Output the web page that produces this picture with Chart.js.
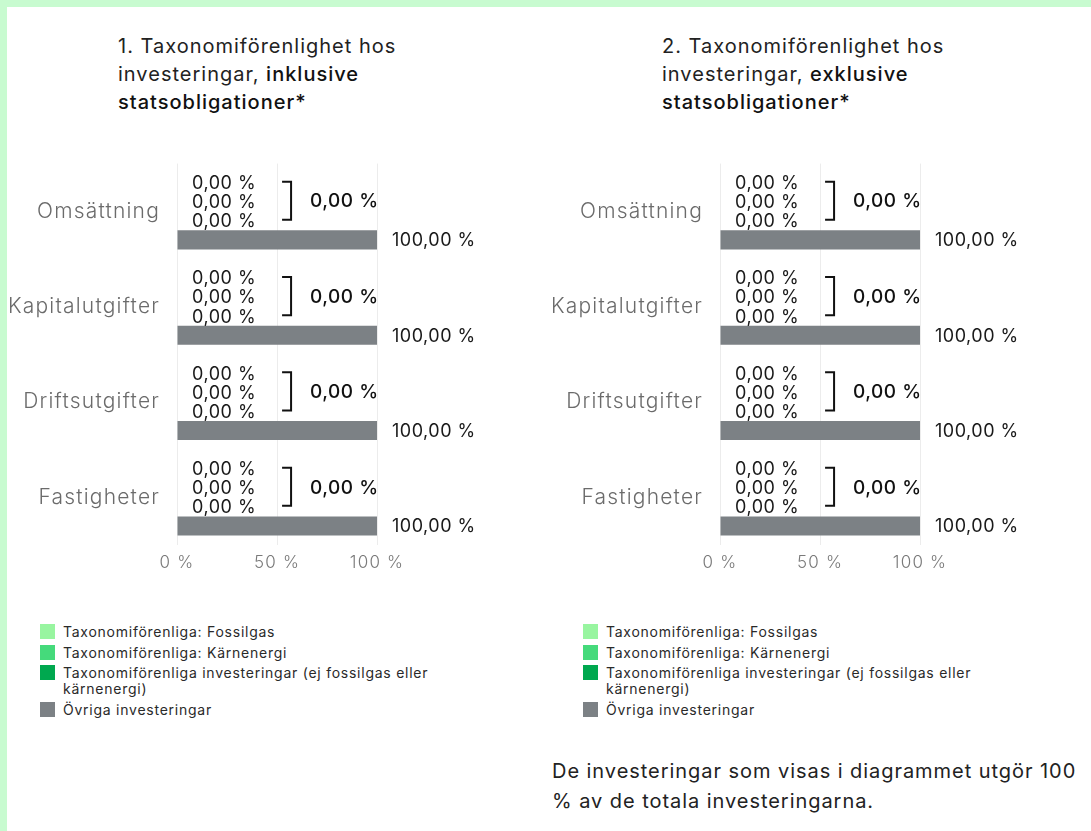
<!DOCTYPE html>
<html lang="sv">
<head>
<meta charset="utf-8">
<title>Taxonomiförenlighet</title>
<script src="https://cdn.jsdelivr.net/npm/chart.js@4.4.1/dist/chart.umd.min.js"></script>
<style>
  html, body { margin: 0; padding: 0; background: #fff; }
  body { width: 1091px; height: 831px; position: relative; overflow: hidden; font-family: Inter, "Noto Sans", sans-serif; color: #1c1c1c; }
  .edge-top { position: absolute; left: 0; top: 0; width: 1091px; height: 7px; background: #c8fbd0; }
  .edge-left { position: absolute; left: 0; top: 0; width: 7px; height: 831px; background: #c8fbd0; }
  .title { position: absolute; top: 32px; width: 300px; font-size: 20px; line-height: 28px; letter-spacing: 1px; font-weight: 400; color: #222; }
  .title b { font-weight: 500; color: #111; }
  canvas { position: absolute; top: 134px; }
  .legend { position: absolute; top: 624px; width: 420px; font-size: 14px; line-height: 16px; color: #2a2a2a; }
  .legend .item { display: flex; align-items: flex-start; margin-bottom: 4.5px; }
  .legend .sw { width: 15px; height: 15px; flex: none; margin-right: 8px; }
  .legend .txt { width: 380px; letter-spacing: 0.75px; }
  .note { position: absolute; left: 552px; top: 756px; width: 535px; font-size: 20px; line-height: 30px; letter-spacing: 0.95px; color: #222; }
</style>
</head>
<body>
<div class="edge-top"></div>
<div class="edge-left"></div>

<div class="title" style="left:118px">1. Taxonomiförenlighet hos investeringar, <b>inklusive statsobligationer*</b></div>
<div class="title" style="left:662px">2. Taxonomiförenlighet hos investeringar, <b>exklusive statsobligationer*</b></div>

<canvas id="chart1" width="540" height="441" style="left:8px"></canvas>
<canvas id="chart2" width="540" height="441" style="left:551px"></canvas>

<div class="legend" id="legend1" style="left:40px"></div>
<div class="legend" id="legend2" style="left:583px"></div>

<div class="note">De investeringar som visas i diagrammet utgör 100 % av de totala investeringarna.</div>

<script>
// Kategorier (y-axeln)
const categories = ['Omsättning', 'Kapitalutgifter', 'Driftsutgifter', 'Fastigheter'];

// Serier
const seriesNames = [
    'Taxonomiförenliga: Fossilgas',
    'Taxonomiförenliga: Kärnenergi',
    'Taxonomiförenliga investeringar (ej fossilgas eller kärnenergi)',
    'Övriga investeringar'
];
const seriesColors = ['#98f5a0', '#45da7b', '#00a84f', '#7c8185'];

// Diagram 1: inklusive statsobligationer
const inklFossilgas = [0, 0, 0, 0];
const inklKarnenergi = [0, 0, 0, 0];
const inklOvrigaTax = [0, 0, 0, 0];
const inklOvriga = [100, 100, 100, 100];

// Diagram 2: exklusive statsobligationer
const exklFossilgas = [0, 0, 0, 0];
const exklKarnenergi = [0, 0, 0, 0];
const exklOvrigaTax = [0, 0, 0, 0];
const exklOvriga = [100, 100, 100, 100];

// x-axelns ticks
const xTicks = [0, 50, 100];

function fmt(v) {
    return v.toFixed(2).replace('.', ',') + ' %';
}

// Bredare typografi för axeletiketterna
const spacing = {
    id: 'spacing',
    beforeDraw(chart) { chart.ctx.letterSpacing = '1.2px'; },
    afterDraw(chart) { chart.ctx.letterSpacing = '0px'; }
};

// Ritar värdeetiketter, klammer och summan av de gröna staplarna
const valueLabels = {
    id: 'valueLabels',
    afterDatasetsDraw(chart) {
        const ctx = chart.ctx;
        ctx.save();
        ctx.letterSpacing = '0.5px';
        ctx.textBaseline = 'middle';
        ctx.textAlign = 'left';
        ctx.fillStyle = '#1a1a1a';
        chart.data.labels.forEach((lab, i) => {
            let rightMost = 0;
            let ys = [];
            let sum = 0;
            chart.data.datasets.forEach((ds, d) => {
                const el = chart.getDatasetMeta(d).data[i];
                const txt = fmt(ds.data[i]);
                ctx.font = '400 18px Inter';
                const tx = el.x + 15;
                ctx.fillText(txt, tx, el.y + 1);
                if (d < 3) {
                    rightMost = Math.max(rightMost, tx + ctx.measureText(txt).width);
                    ys.push(el.y);
                    sum += ds.data[i];
                }
            });
            // klammer
            const bx = rightMost + 26;
            const top = ys[0] - 1;
            const bottom = ys[ys.length - 1] - 1;
            ctx.strokeStyle = '#111';
            ctx.lineWidth = 2;
            ctx.beginPath();
            ctx.moveTo(bx, top);
            ctx.lineTo(bx + 9, top);
            ctx.lineTo(bx + 9, bottom);
            ctx.lineTo(bx, bottom);
            ctx.stroke();
            // summa
            ctx.font = '500 19px Inter';
            ctx.fillStyle = '#111';
            ctx.fillText(fmt(sum), bx + 28, (top + bottom) / 2 + 1);
            ctx.fillStyle = '#1a1a1a';
        });
        ctx.restore();
    }
};

function makeChart(canvasId, seriesData) {
    const datasets = seriesData.map((values, k) => ({
        label: seriesNames[k],
        data: values,
        backgroundColor: seriesColors[k],
        borderWidth: 0,
        categoryPercentage: 0.8,
        barPercentage: 1.0
    }));

    return new Chart(document.getElementById(canvasId), {
        type: 'bar',
        data: { labels: categories, datasets: datasets },
        options: {
            indexAxis: 'y',
            responsive: false,
            animation: false,
            layout: { padding: { top: 11, right: 171, bottom: 0, left: 0 } },
            plugins: {
                legend: { display: false },
                tooltip: { enabled: false }
            },
            scales: {
                x: {
                    min: 0,
                    max: 100,
                    afterBuildTicks: (scale) => { scale.ticks = xTicks.map(v => ({ value: v })); },
                    afterFit: (scale) => { scale.height = 30; },
                    border: { display: false },
                    grid: { color: '#ececec', drawTicks: false },
                    ticks: {
                        padding: 8,
                        color: '#7a7a7a',
                        font: { family: 'Inter', size: 17, weight: 300 },
                        callback: (v) => v + ' %'
                    }
                },
                y: {
                    afterFit: (scale) => { scale.width = 169; },
                    border: { display: false },
                    grid: { display: false, drawTicks: false },
                    ticks: {
                        padding: 17,
                        color: '#6b6b6b',
                        font: { family: 'Inter', size: 21, weight: 300 }
                    }
                }
            }
        },
        plugins: [spacing, valueLabels]
    });
}

// Legend i HTML
function renderLegend(id) {
    const el = document.getElementById(id);
    el.innerHTML = '';
    seriesNames.forEach((name, k) => {
        const item = document.createElement('div');
        item.className = 'item';
        const sw = document.createElement('span');
        sw.className = 'sw';
        sw.style.background = seriesColors[k];
        const txt = document.createElement('span');
        txt.className = 'txt';
        txt.textContent = name;
        item.appendChild(sw);
        item.appendChild(txt);
        el.appendChild(item);
    });
}

makeChart('chart1', [inklFossilgas, inklKarnenergi, inklOvrigaTax, inklOvriga]);
makeChart('chart2', [exklFossilgas, exklKarnenergi, exklOvrigaTax, exklOvriga]);
renderLegend('legend1');
renderLegend('legend2');
</script>
</body>
</html>
